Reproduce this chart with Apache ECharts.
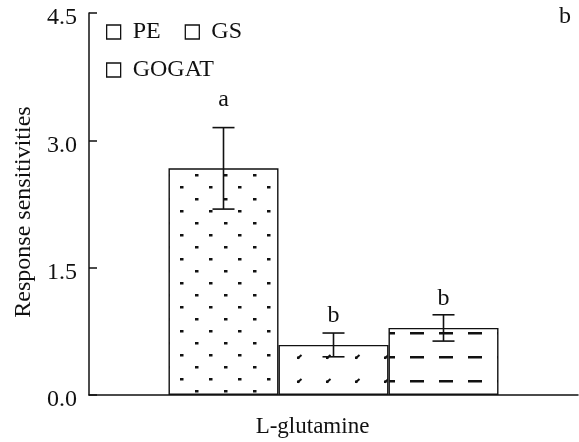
<!DOCTYPE html>
<html><head><meta charset="utf-8">
<script src="https://cdn.jsdelivr.net/npm/echarts@6/dist/echarts.min.js"></script>
<style>html,body{margin:0;padding:0;background:#fff}#c{width:579px;height:442px}</style>
</head><body><div id="c"></div>
<script>
var categories = ['L-glutamine'];
var seriesNames = ['PE', 'GS', 'GOGAT'];
var values = [2.67, 0.59, 0.79];
var errors = [0.48, 0.14, 0.155];
var letters = ['a', 'b', 'b'];
var letterY = [3.39, 0.84, 1.04];
var panelLabel = 'b';

var FONT = '"Liberation Serif", "Times New Roman", serif';

function makeTile(w, h, draw) {
  var c = document.createElement('canvas');
  c.width = w; c.height = h;
  var g = c.getContext('2d');
  g.fillStyle = '#fff'; g.fillRect(0, 0, w, h);
  g.fillStyle = '#111'; g.strokeStyle = '#111';
  draw(g);
  return c;
}
var dotTile = makeTile(29, 24, function (g) {
  g.fillRect(21, 6, 3.5, 2.5);
  g.fillRect(6, 18, 3.5, 2.5);
});
var slashTile = makeTile(29, 24, function (g) {
  g.lineWidth = 2;
  g.beginPath(); g.moveTo(7.5, 22.5); g.lineTo(11.5, 19); g.stroke();
  g.fillRect(7, 20.5, 2.5, 2.5);
});
var dashTile = makeTile(29, 24, function (g) {
  g.fillRect(4, 20, 14, 2.5);
});
var patterns = [dotTile, slashTile, dashTile];

var chart = echarts.init(document.getElementById('c'), null, {renderer: 'canvas'});

var barSeries = seriesNames.map(function (n, i) {
  return {
    name: n, type: 'bar', data: categories.map(function () { return values[i]; }),
    barWidth: 110, barGap: '0%',
    itemStyle: {color: {image: patterns[i], repeat: 'repeat'}, borderColor: '#111', borderWidth: 1.4},
    emphasis: {disabled: true}, animation: false
  };
});

var errSeries = {
  type: 'custom', name: 'err', silent: true, animation: false, z: 10,
  data: seriesNames.map(function (n, i) { return [0, values[i], errors[i], i]; }),
  renderItem: function (params, api) {
    var i = api.value(3);
    var v = api.value(1), e = api.value(2);
    var base = api.coord([0, v]);
    var bw = 110;
    var x = base[0] - 1.5 * bw + bw / 2 + i * bw;
    var top = api.coord([0, v + e])[1];
    var bot = api.coord([0, v - e])[1];
    var ly = api.coord([0, letterY[i]])[1];
    var hw = 11;
    var st = {stroke: '#111', lineWidth: 1.6};
    return {type: 'group', children: [
      {type: 'line', shape: {x1: x, y1: top, x2: x, y2: bot}, style: st},
      {type: 'line', shape: {x1: x - hw, y1: top, x2: x + hw, y2: top}, style: st},
      {type: 'line', shape: {x1: x - hw, y1: bot, x2: x + hw, y2: bot}, style: st},
      {type: 'text', style: {x: x, y: ly - 8, text: letters[i], textAlign: 'center', textVerticalAlign: 'middle',
        font: '24px ' + FONT, fill: '#111'}}
    ]};
  }
};

var legendCommon = {
  orient: 'horizontal', padding: 0, left: 106,
  itemWidth: 14, itemHeight: 14, itemGap: 24, icon: 'rect',
  textStyle: {fontFamily: FONT, fontSize: 24, color: '#111', padding: [0, 4, 0, 7]},
  itemStyle: {borderColor: '#111', borderWidth: 1.3},
  selectedMode: false
};

chart.setOption({
  animation: false,
  grid: {left: 89, right: 1, top: 13, bottom: 47, containLabel: false},
  legend: [
    Object.assign({}, legendCommon, {data: seriesNames.slice(0, 2), top: 20}),
    Object.assign({}, legendCommon, {data: seriesNames.slice(2), top: 58})
  ],
  xAxis: {
    type: 'category', data: categories,
    axisLine: {lineStyle: {color: '#111', width: 1.5}},
    axisTick: {show: false},
    axisLabel: {margin: 20, fontFamily: FONT, fontSize: 23, color: '#111', padding: [0, 42, 0, 0]}
  },
  yAxis: {
    type: 'value', min: 0, max: 4.5, interval: 1.5,
    name: 'Response sensitivities', nameLocation: 'middle', nameGap: 52, nameRotate: 90,
    nameTextStyle: {fontFamily: FONT, fontSize: 24, color: '#111', padding: [0, 16, 0, 0]},
    axisLine: {show: true, lineStyle: {color: '#111', width: 1.5}},
    axisTick: {show: true, inside: true, length: 8, lineStyle: {color: '#111', width: 1.5}},
    splitLine: {show: false},
    axisLabel: {margin: 12, color: '#111',
      formatter: function (v) { return '{t|' + v.toFixed(1) + '}'; },
      rich: {t: {fontFamily: FONT, fontSize: 24, color: '#111', padding: [10, 0, 0, 0]}}}
  },
  graphic: [{type: 'text', x: 565, y: 16.5, style: {text: panelLabel, font: '24px ' + FONT, fill: '#111',
    textAlign: 'center', textVerticalAlign: 'middle'}}],
  series: barSeries.concat([errSeries])
});
</script></body></html>
